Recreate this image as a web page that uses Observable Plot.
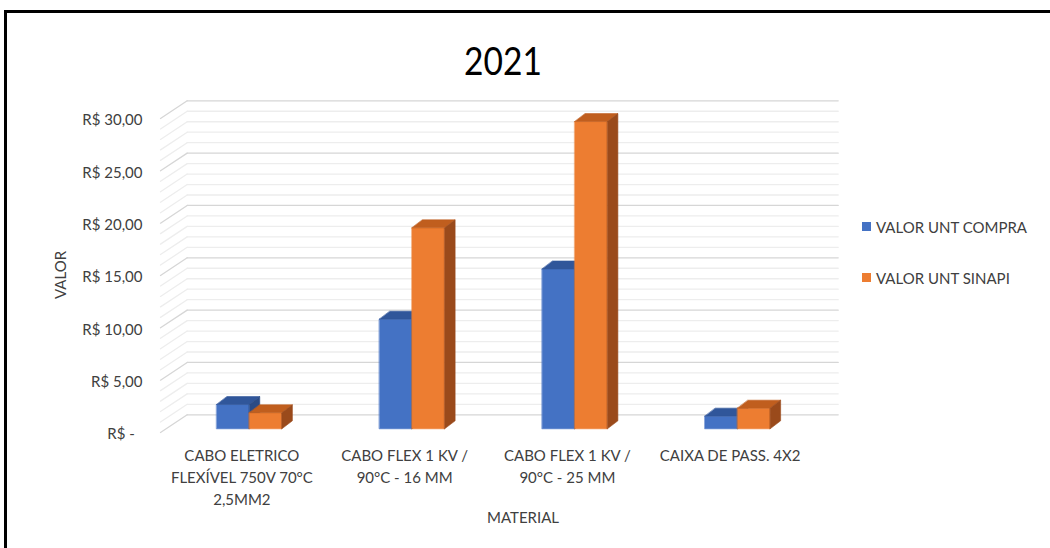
<!DOCTYPE html>
<html>
<head>
<meta charset="utf-8">
<script src="https://cdn.jsdelivr.net/npm/d3@7"></script>
<script src="https://cdn.jsdelivr.net/npm/@observablehq/plot@0.6"></script>
<style>
  html, body { margin: 0; padding: 0; background: #fff; }
  #wrap { position: relative; width: 1050px; height: 548px; overflow: hidden; font-family: Lato, "Open Sans", sans-serif; color: #404040; }
  #frame { position: absolute; left: 4px; top: 10px; width: 1080px; height: 600px; border: 3px solid #000; box-sizing: border-box; }
  #chart { position: absolute; left: 0; top: 0; }
  #title { position: absolute; left: 503px; top: 60px; transform: translate(-50%, -50%) scaleX(0.86); font-family: Lato, sans-serif; font-size: 39px; color: #000; line-height: 48px; white-space: nowrap; }
  .lab { position: absolute; font-size: 15px; color: #404040; white-space: nowrap; }
  #ylab { left: 60px; top: 275px; transform: translate(-50%, -50%) rotate(-90deg); }
  #xlab { left: 523px; top: 517px; transform: translate(-50%, -50%); }
  .leg { position: absolute; left: 862px; display: flex; align-items: center; font-size: 15px; color: #404040; white-space: nowrap; }
  .sw { width: 9px; height: 9px; margin-right: 5px; }
</style>
</head>
<body>
<div id="wrap">
  <div id="chart"></div>
  <div id="title">2021</div>
  <div id="ylab" class="lab">VALOR</div>
  <div id="xlab" class="lab">MATERIAL</div>
  <div id="legend"></div>
  <div id="frame"></div>
</div>
<script>
// ---- data ----
const categories = [
  "CABO ELETRICO\nFLEXÍVEL 750V 70°C\n2,5MM2",
  "CABO FLEX 1 KV /\n90°C - 16 MM",
  "CABO FLEX 1 KV /\n90°C - 25 MM",
  "CAIXA DE PASS. 4X2"
];
const seriesNames = ["VALOR UNT COMPRA", "VALOR UNT SINAPI"];
const valorCompra = [2.32, 10.47, 15.27, 1.21];
const valorSinapi = [1.53, 19.20, 29.35, 1.97];
const yTicks = [0, 5, 10, 15, 20, 25, 30];

// ---- style / geometry constants ----
const W = 1050, H = 548;
const mL = 160, mR = 239, mT = 118, mB = 116;
const xDomain = [-0.5, 3.5], yDomain = [0, 30];
const pxPerX = (W - mL - mR) / (xDomain[1] - xDomain[0]);
const pxPerY = (H - mT - mB) / (yDomain[1] - yDomain[0]);
// wall depth (oblique projection) in data units
const wallDX = 26.7 / pxPerX, wallDY = 17.7 / pxPerY;
// bar placement depth & bar depth
const barSX = 7.4 / pxPerX, barSY = 3.7 / pxPerY;
const barDX = 10.5 / pxPerX, barDY = 8 / pxPerY;
const barW = 32.6 / pxPerX;

const colors = {
  front: ["#4472C4", "#ED7D31"],
  top: ["#30569A", "#C05E1E"],
  side: ["#2A4B86", "#9A4A1B"]
};

// ---- gridlines (back wall + left side wall) ----
const gridVals = d3.range(0, 31, 1);
const backLines = [], sideLines = [];
for (const v of gridVals) {
  const major = v % 5 === 0;
  backLines.push({id: "b" + v, major, x: xDomain[0] + wallDX, y: v + wallDY});
  backLines.push({id: "b" + v, major, x: xDomain[1] + wallDX, y: v + wallDY});
  sideLines.push({id: "s" + v, major, x: xDomain[0], y: v});
  sideLines.push({id: "s" + v, major, x: xDomain[0] + wallDX, y: v + wallDY});
}
const gridAll = backLines.concat(sideLines);

// ---- bar faces ----
const series = [valorCompra, valorSinapi];
const faces = {front: [], top: [], side: []};
categories.forEach((c, i) => {
  series.forEach((vals, s) => {
    const v = vals[i];
    const x1 = i - barW + s * barW + barSX;
    const x2 = x1 + barW;
    const y0 = barSY, y1 = v + barSY;
    const id = `${i}-${s}`;
    const order = i * 2 + s;
    faces.front.push(...[[x1, y0], [x2, y0], [x2, y1], [x1, y1]].map(([x, y]) => ({id, s, order, x, y})));
    faces.top.push(...[[x1, y1], [x2, y1], [x2 + barDX, y1 + barDY], [x1 + barDX, y1 + barDY]].map(([x, y]) => ({id, s, order, x, y})));
    faces.side.push(...[[x2, y0], [x2 + barDX, y0 + barDY], [x2 + barDX, y1 + barDY], [x2, y1]].map(([x, y]) => ({id, s, order, x, y})));
  });
});

const barMarks = [];
for (let o = 0; o < categories.length * 2; o++) {
  const s = o % 2;
  for (const f of ["front", "top", "side"]) {
    barMarks.push(Plot.line(faces[f].filter(d => d.order === o), {
      x: "x", y: "y", z: "id", fill: colors[f][s], stroke: colors[f][s], strokeWidth: 0.6, curve: "linear-closed"
    }));
  }
}

const fmt = v => v === 0 ? "R$ -\u00a0\u00a0" : "R$ " + v.toFixed(2).replace(".", ",");

const chart = Plot.plot({
  width: W, height: H,
  marginLeft: mL, marginRight: mR, marginTop: mT, marginBottom: mB,
  x: {type: "linear", domain: xDomain, axis: null},
  y: {type: "linear", domain: yDomain, axis: null},
  style: {fontFamily: "Lato, 'Open Sans', sans-serif", background: "transparent"},
  marks: [
    Plot.line(gridAll.filter(d => !d.major), {x: "x", y: "y", z: "id", stroke: "#EDEDED", strokeWidth: 1.3}),
    Plot.line(gridAll.filter(d => d.major), {x: "x", y: "y", z: "id", stroke: "#D6D6D6", strokeWidth: 1.3}),
    ...barMarks,
    Plot.text(yTicks, {x: xDomain[0], y: d => d, text: fmt, textAnchor: "end", dx: -18, dy: 2, fontSize: 15, fill: "#404040"}),
    Plot.text(categories, {x: (d, i) => i, y: 0, text: d => d, textAnchor: "middle", lineAnchor: "top", dy: 13, lineHeight: 1.47, fontSize: 15, fill: "#404040"})
  ]
});
document.getElementById("chart").appendChild(chart);

// legend
const legendTops = [226.5, 277.5];
const leg = document.getElementById("legend");
seriesNames.forEach((n, s) => {
  const el = document.createElement("div");
  el.className = "leg";
  el.style.top = (legendTops[s] - 10) + "px";
  el.style.height = "20px";
  el.innerHTML = `<div class="sw" style="background:${colors.front[s]}"></div><span>${n}</span>`;
  leg.appendChild(el);
});
</script>
</body>
</html>
